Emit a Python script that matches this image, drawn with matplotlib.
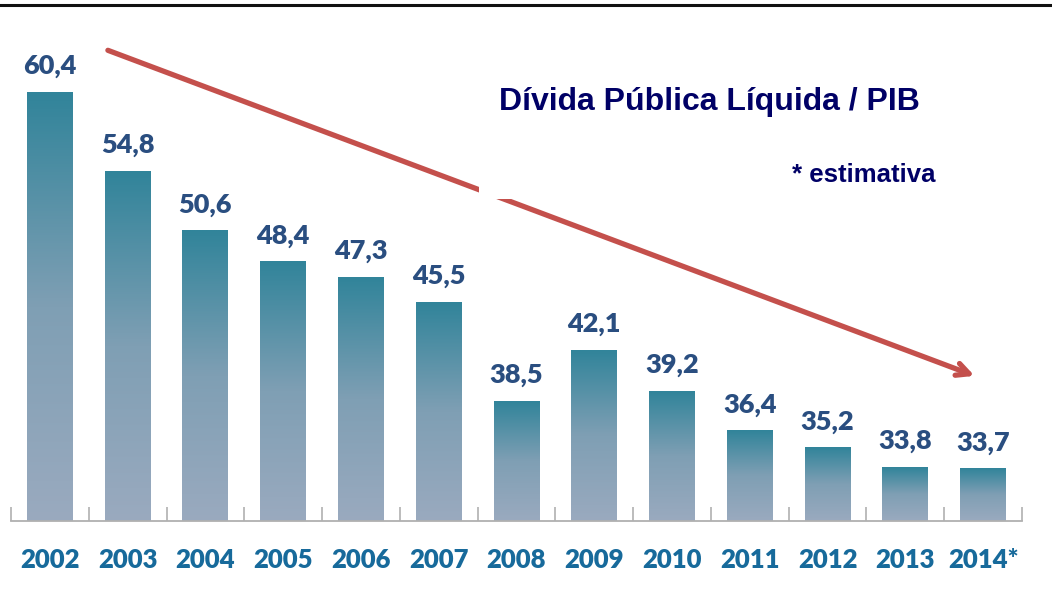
import numpy as np
import matplotlib.pyplot as plt
from matplotlib.colors import LinearSegmentedColormap
from matplotlib.patches import Rectangle

anos = ['2002', '2003', '2004', '2005', '2006', '2007', '2008',
        '2009', '2010', '2011', '2012', '2013', '2014*']
divida = [60.4, 54.8, 50.6, 48.4, 47.3, 45.5, 38.5,
          42.1, 39.2, 36.4, 35.2, 33.8, 33.7]
rotulos = ['60,4', '54,8', '50,6', '48,4', '47,3', '45,5', '38,5',
           '42,1', '39,2', '36,4', '35,2', '33,8', '33,7']

W, H = 1052, 591
fig = plt.figure(figsize=(W / 100, H / 100), dpi=100)
ax = fig.add_axes([11 / W, 70 / H, 1011 / W, 521 / H])

base = 30
ax.set_xlim(-0.5, len(anos) - 0.5)
ax.set_ylim(base, 66.97)

# degradê de cada barra: teal em cima, azul acinzentado embaixo
cmap = LinearSegmentedColormap.from_list('barra', ['#9aaabf', '#7f9fb4', '#31849a'])
grad = np.linspace(0, 1, 256).reshape(-1, 1)
largura = 0.59
for i, v in enumerate(divida):
    ax.imshow(grad, cmap=cmap, origin='lower', aspect='auto',
              extent=(i - largura / 2, i + largura / 2, base, v), zorder=2)
    ax.text(i, v + 1.0, rotulos[i], ha='center', va='bottom',
            fontsize=19.5, fontweight='heavy', family='Lato', color='#2a4e80')
ax.set_xlim(-0.5, len(anos) - 0.5)
ax.set_ylim(base, 66.97)

for s in ['top', 'right', 'left']:
    ax.spines[s].set_visible(False)
ax.spines['bottom'].set_color('#b0b0b0')
ax.spines['bottom'].set_linewidth(1.3)
ax.set_yticks([])
ax.set_xticks(np.arange(len(anos) + 1) - 0.5, minor=False)
ax.set_xticklabels([])
ax.tick_params(axis='x', direction='in', length=10, color='#b0b0b0', width=1.2)
for i, a in enumerate(anos):
    ax.text(i, base - 2.75, a, ha='center', va='center', fontsize=18.5,
            fontweight='heavy', family='Lato', color='#176a9b', clip_on=False)

# seta de tendência
ax.annotate('', xy=(11.89, 40.3), xytext=(0.746, 63.4),
            arrowprops=dict(arrowstyle='->,head_length=0.9,head_width=0.45',
                            color='#c4504c', lw=3.8, shrinkA=0, shrinkB=0),
            annotation_clip=False, zorder=3)

fig.patches.append(Rectangle((479, H - 199), 520, 185, transform=None,
                             facecolor='white', edgecolor='none', zorder=4))

fig.text(499 / W, 1 - 102 / H, 'Dívida Pública Líquida / PIB', fontsize=23,
         fontweight='bold', family='Liberation Sans', color='#000066',
         va='center', ha='left', zorder=5)
fig.text(935 / W, 1 - 175 / H, '* estimativa', fontsize=18.5,
         fontweight='bold', family='Liberation Sans', color='#000066',
         va='center', ha='right', zorder=5)

fig.add_artist(plt.Line2D([0, 1], [1 - 5 / H, 1 - 5 / H], color='#111111',
                          lw=2.2, zorder=6))

fig.savefig('out.png', dpi=100)
